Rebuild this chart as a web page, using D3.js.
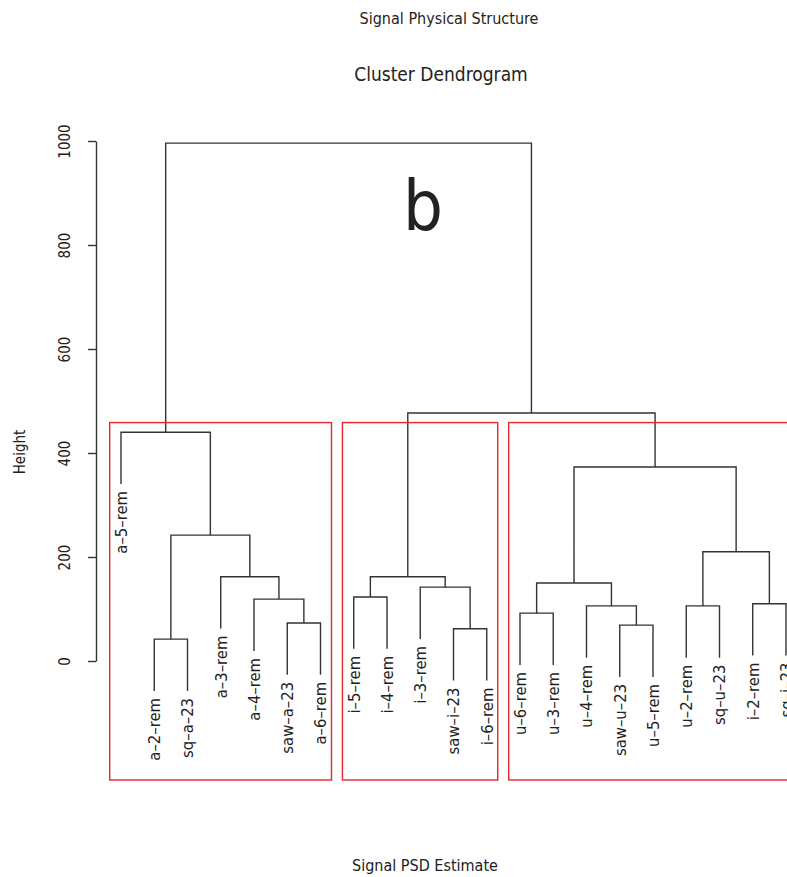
<!DOCTYPE html>
<html>
<head>
<meta charset="utf-8">
<script src="https://cdn.jsdelivr.net/npm/d3@7"></script>
<style>
  body { margin: 0; background: #fff; }
  text { font-family: "Liberation Sans Narrow", "DejaVu Sans Condensed", sans-serif; fill: #222; }
</style>
</head>
<body>
<div id="chart"></div>
<script>
// leaf labels, in dendrogram order
const leaves = ["a–5–rem", "a–2–rem", "sq–a–23", "a–3–rem", "a–4–rem", "saw–a–23", "a–6–rem",
  "i–5–rem", "i–4–rem", "i–3–rem", "saw–i–23", "i–6–rem",
  "u–6–rem", "u–3–rem", "u–4–rem", "saw–u–23", "u–5–rem", "u–2–rem", "sq–u–23", "i–2–rem", "sq–i–23"];
// merge table like R's hclust: negative = leaf (1-based), positive = earlier merge row (1-based)
const merges = [[-2, -3], [-11, -12], [-16, -17], [-6, -7], [-13, -14], [-15, 3], [-18, -19],
  [-20, -21], [-5, 4], [-8, -9], [-10, 2], [5, 6], [-4, 9], [10, 11], [7, 8], [1, 13],
  [12, 15], [-1, 16], [14, 17], [18, 19]];
const heights = [42, 62, 69, 73, 92, 106, 106, 110, 119, 123, 142, 150, 162, 162, 210, 242,
  373, 440, 477, 996];
const yTicks = [0, 200, 400, 600, 800, 1000];
// rect.hclust k = 3 : leaf index ranges
const clusters = [[1, 7], [8, 12], [13, 21]];

const W = 787, H = 877;
const svg = d3.select("#chart").append("svg").attr("width", W).attr("height", H);

const x = d3.scaleLinear().domain([1, leaves.length]).range([121, 786]);
const y = d3.scaleLinear().domain([0, 1000]).range([661, 141]);
const hang = 0.1 * d3.max(heights);

// node positions
const nodeX = [], nodeH = heights;
function childX(c) { return c < 0 ? x(-c) : nodeX[c - 1]; }
function childTop(c, parentH) { return c < 0 ? parentH - hang : nodeH[c - 1]; }
merges.forEach(function(m, i) {
  nodeX[i] = (childX(m[0]) + childX(m[1])) / 2;
});

const g = svg.append("g");
merges.forEach(function(m, i) {
  const h = heights[i];
  const x0 = childX(m[0]), x1 = childX(m[1]);
  const p = d3.path();
  p.moveTo(x0, y(childTop(m[0], h)));
  p.lineTo(x0, y(h));
  p.lineTo(x1, y(h));
  p.lineTo(x1, y(childTop(m[1], h)));
  g.append("path").attr("d", p.toString())
    .attr("fill", "none").attr("stroke", "#333").attr("stroke-width", 1.4);
});

// leaf labels
const leafEnd = {};
merges.forEach(function(m, i) {
  m.forEach(function(c) { if (c < 0) leafEnd[-c] = heights[i] - hang; });
});
leaves.forEach(function(name, i) {
  const lx = x(i + 1), ly = y(leafEnd[i + 1]) + 7;
  svg.append("text").text(name)
    .attr("transform", "translate(" + lx + "," + ly + ") rotate(-90)")
    .attr("text-anchor", "end").attr("dy", "0.35em")
    .style("font-size", "16.5px");
});

// cluster rectangles
const sorted = heights.slice().sort(d3.descending);
const cut = (sorted[1] + sorted[2]) / 2;
const spacing = x(2) - x(1);
clusters.forEach(function(c) {
  const left = x(c[0]) - 0.34 * spacing, right = x(c[1]) + 0.33 * spacing;
  svg.append("rect")
    .attr("x", left).attr("y", y(cut))
    .attr("width", right - left).attr("height", 780 - y(cut))
    .attr("fill", "none").attr("stroke", "#e8262b").attr("stroke-width", 1.4);
});

// y axis
const axis = svg.append("g").attr("transform", "translate(96,0)")
  .call(d3.axisLeft(y).tickValues(yTicks).tickFormat(d3.format("d")).tickSize(8).tickSizeOuter(0));
axis.select(".domain").attr("stroke", "#333").attr("stroke-width", 1.4);
axis.selectAll(".tick line").attr("stroke", "#333").attr("stroke-width", 1.4);
axis.selectAll(".tick text")
  .attr("x", null).attr("y", null)
  .attr("transform", "translate(-26,0) rotate(-90)")
  .attr("text-anchor", "middle").attr("dy", "0")
  .style("font-size", "15px").style("font-family", null).attr("fill", "#222");

svg.append("text").text("Height")
  .attr("transform", "translate(25,452) rotate(-90)")
  .attr("text-anchor", "middle").style("font-size", "15px");

// titles
svg.append("text").text("Signal Physical Structure")
  .attr("x", 449).attr("y", 24).attr("text-anchor", "middle").style("font-size", "16px");
svg.append("text").text("Cluster Dendrogram")
  .attr("x", 441).attr("y", 81).attr("text-anchor", "middle").style("font-size", "19px");
svg.append("text").text("b")
  .attr("x", 423).attr("y", 230).attr("text-anchor", "middle").style("font-size", "70px");
svg.append("text").text("Signal PSD Estimate")
  .attr("x", 425).attr("y", 871).attr("text-anchor", "middle").style("font-size", "16px");
</script>
</body>
</html>
